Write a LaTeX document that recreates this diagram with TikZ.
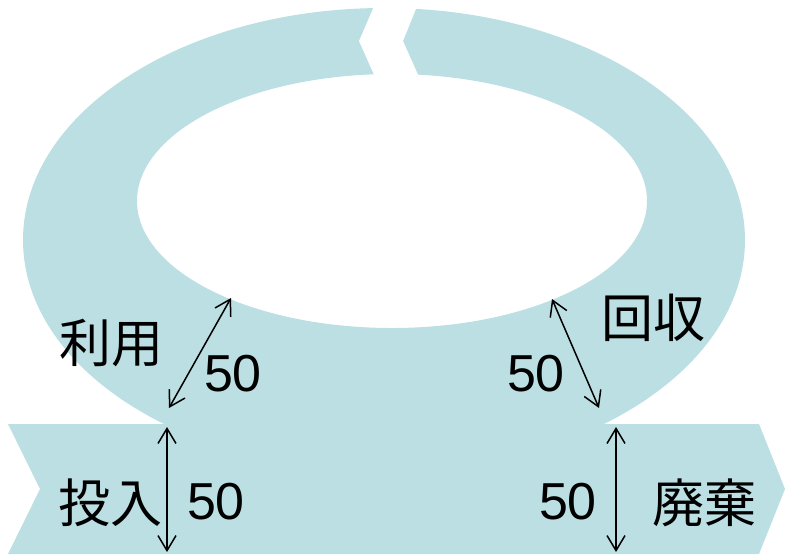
\documentclass[tikz,border=0pt]{standalone}
\usepackage{fontspec}
\setmainfont{Liberation Sans}
\newfontfamily\jpfont{Noto Sans CJK JP}
\usetikzlibrary{arrows.meta}
\definecolor{ringblue}{RGB}{187,223,227}
\begin{document}
\begin{tikzpicture}[x=1pt,y=-1pt,
  shapefill/.style={fill=ringblue},
  jplabel/.style={font=\jpfont\fontsize{52}{60}\selectfont, inner sep=0pt},
  numlabel/.style={font=\fontsize{52}{60}\selectfont, inner sep=0pt},
  dimarrow/.style={line width=1.5pt, {Straight Barb[length=15pt,width=18pt,line width=1.5pt]}-{Straight Barb[length=15pt,width=18pt,line width=1.5pt]}}]
\useasboundingbox (0,0) rectangle (785,555);
% ring
\fill[shapefill,even odd rule] (384,240) ellipse [x radius=361pt, y radius=232pt]
  (392,201) ellipse [x radius=255pt, y radius=127pt];
% gap in ring
\fill[white] (377.6,-2) -- (359,41) -- (379,86) -- (423,86) -- (403,41) -- (420.4,-2) -- cycle;
% band
\fill[shapefill] (8,424) -- (759,424) -- (785,489) -- (759,554) -- (8,554) -- (40,489) -- cycle;
% labels
\node[jplabel] (riyo) at (111,343) {利用};
\node[jplabel] (kaishu) at (653,318) {回収};
\node[jplabel] (tonyu) at (110,503) {投入};
\node[jplabel] (haiki) at (704,503) {廃棄};
\node[numlabel] (n1) at (233,374) {50};
\node[numlabel] (n2) at (536,374) {50};
\node[numlabel] (n3) at (216,502) {50};
\node[numlabel] (n4) at (568,502) {50};
% arrows
\coordinate (la1) at (231,298);
\coordinate (la2) at (169,408);
\coordinate (ra1) at (552,299);
\coordinate (ra2) at (599,408);
\coordinate (lv1) at (167,427);
\coordinate (lv2) at (167,552);
\coordinate (rv1) at (616,427);
\coordinate (rv2) at (616,552);
\draw[dimarrow] (la1) -- (la2);
\draw[dimarrow] (ra1) -- (ra2);
\draw[dimarrow] (lv1) -- (lv2);
\draw[dimarrow] (rv1) -- (rv2);
\end{tikzpicture}
\end{document}
